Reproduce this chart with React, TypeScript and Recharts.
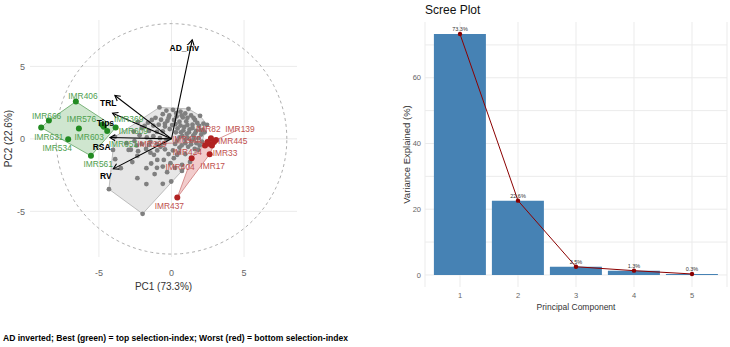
import React from "react";
import {
  ScatterChart,
  Scatter,
  XAxis,
  YAxis,
  CartesianGrid,
  ComposedChart,
  Bar,
  Line,
  LabelList,
} from "recharts";

const FONT = "'Liberation Sans', Arial, sans-serif";
const NARROW = "'Liberation Sans Narrow', 'Liberation Sans', Arial, sans-serif";

// PC scores of the genotypes outside the best / worst groups (grey)
const otherScores: [number, number][] = [
  [-0.83, 2.17], [1.17, 2.07], [1.97, 1.59], [2.45, 0.97], [1.28, -1.59],
  [0.72, -2.21], [-1.99, -5.17], [-4.31, -3.47], [-4.03, -0.76], [-3.9, 0.14],
  [-2.31, 1.17], [-0.35, 1.95], [0.1, 2.0], [0.62, 1.88], [0.95, 1.75],
  [-0.6, 1.7], [-0.15, 1.62], [0.35, 1.55], [0.78, 1.48], [1.35, 1.62],
  [1.62, 1.3], [-1.1, 1.45], [-0.72, 1.32], [-0.28, 1.25], [0.18, 1.3],
  [0.55, 1.18], [1.02, 1.2], [1.45, 0.98], [1.9, 0.9], [2.15, 0.62],
  [-1.62, 1.12], [-1.25, 0.92], [-0.88, 0.98], [-0.45, 0.85], [0.05, 0.95],
  [0.42, 0.72], [0.88, 0.82], [1.25, 0.66], [1.7, 0.55], [2.05, 0.3],
  [-2.05, 0.75], [-1.55, 0.55], [-1.0, 0.48], [-0.6, 0.52], [0.65, 0.45],
  [1.05, 0.35], [1.5, 0.22], [1.85, 0.05], [-2.6, 0.5], [-2.2, 0.25],
  [-1.7, 0.1], [-1.25, 0.18], [-0.8, 0.05], [0.55, 0.1], [0.95, -0.05],
  [1.35, -0.12], [1.72, -0.3], [2.1, -0.2], [-3.1, -0.3], [-2.55, -0.15],
  [-2.05, -0.35], [-1.55, -0.42], [-1.0, -0.35], [-0.5, -0.3], [0.25, -0.35],
  [0.7, -0.45], [1.15, -0.55], [1.6, -0.7], [-2.8, -0.75], [-2.3, -0.85],
  [-1.45, -0.95], [-0.98, -0.8], [-0.45, -0.72], [0.1, -0.8], [0.5, -0.95],
  [0.95, -1.05], [-3.88, -1.4], [-3.49, -2.02], [-2.35, -1.17], [-1.73, -2.02],
  [-1.16, -2.43], [-2.35, -2.71], [-1.73, -3.12], [-0.6, -3.1], [-0.02, -2.94],
  [-1.21, -1.1], [-0.53, -1.45], [-0.07, -1.68], [0.39, -1.1], [-0.6, -1.91],
  [-2.95, -0.76], [0.16, -1.33], [0.73, -1.79], [-0.98, -1.45],
  [0.32, 1.78], [0.7, 1.62], [1.1, 1.45], [1.52, 1.45], [1.78, 1.1],
  [2.2, 1.05], [0.28, 1.02], [0.62, 0.92], [1.1, 0.95], [1.45, 0.75],
  [2.28, 0.45], [0.3, 0.45], [0.82, 0.58], [1.2, 0.45], [1.62, 0.38],
  [2.0, 0.6], [0.4, -0.12], [0.75, 0.2], [1.1, 0.08], [1.55, -0.02],
  [1.95, -0.45], [0.55, -0.6], [0.95, -0.3], [1.35, -0.38], [1.85, -0.75],
  [-0.2, 1.45], [-0.45, 1.05], [-0.12, 0.68], [-1.35, 1.3], [-1.85, 0.9],
  [-0.35, -0.05], [-1.45, -0.2], [-2.4, -0.45], [-0.75, -0.55], [-0.2, -1.05],
  [-1.75, -0.7], [-0.3, -2.3], [-1.4, -1.7], [-2.7, -1.6], [-1.0, -2.0],
  [0.25, -2.0],
];

// top selection-index genotypes (green)
const bestGenotypes = [
  { id: "IMR406", pc1: -6.59, pc2: 2.57 },
  { id: "IMR666", pc1: -8.45, pc2: 1.26 },
  { id: "IMR631", pc1: -8.98, pc2: 0.78 },
  { id: "IMR576", pc1: -6.38, pc2: 0.71 },
  { id: "IMR534", pc1: -7.12, pc2: -0.02 },
  { id: "IMR369", pc1: -4.77, pc2: 0.97 },
  { id: "IMR603", pc1: -4.43, pc2: 0.55 },
  { id: "IMR609", pc1: -3.85, pc2: 0.78 },
  { id: "IMR561", pc1: -5.55, pc2: -1.17 },
  { id: "IMR651", pc1: -4.66, pc2: 0.83 },
];

// where the repelled labels of the best group sit
const bestLabels = [
  { id: "IMR406", pc1: -6.1, pc2: 2.99 },
  { id: "IMR666", pc1: -8.61, pc2: 1.61 },
  { id: "IMR631", pc1: -8.45, pc2: 0.16 },
  { id: "IMR534", pc1: -7.88, pc2: -0.64 },
  { id: "IMR576", pc1: -6.2, pc2: 1.38 },
  { id: "IMR603", pc1: -5.67, pc2: 0.16 },
  { id: "IMR369", pc1: -2.95, pc2: 1.38 },
  { id: "IMR609", pc1: -2.63, pc2: 0.53 },
  { id: "IMR651", pc1: -3.32, pc2: -0.37 },
  { id: "IMR561", pc1: -5.05, pc2: -1.74 },
];

// bottom selection-index genotypes (red)
const worstGenotypes = [
  { id: "IMR437", pc1: 0.4, pc2: -4.05 },
  { id: "IMR424", pc1: 1.39, pc2: -1.33 },
  { id: "IMR33", pc1: 2.63, pc2: -1.06 },
  { id: "IMR82", pc1: 2.72, pc2: 0.05 },
  { id: "IMR139", pc1: 3.07, pc2: -0.07 },
  { id: "IMR445", pc1: 2.93, pc2: -0.21 },
  { id: "IMR17", pc1: 2.59, pc2: -0.34 },
  { id: "IMR404", pc1: 2.31, pc2: -0.45 },
  { id: "IMR470", pc1: 2.79, pc2: -0.45 },
  { id: "IMR229", pc1: 2.48, pc2: -0.21 },
];

const worstLabels = [
  { id: "IMR82", pc1: 2.54, pc2: 0.69 },
  { id: "IMR139", pc1: 4.72, pc2: 0.69 },
  { id: "IMR445", pc1: 4.22, pc2: -0.16 },
  { id: "IMR33", pc1: 3.69, pc2: -0.99 },
  { id: "IMR17", pc1: 2.84, pc2: -1.84 },
  { id: "IMR424", pc1: 1.09, pc2: -0.92 },
  { id: "IMR404", pc1: 0.59, pc2: -1.91 },
  { id: "IMR437", pc1: -0.15, pc2: -4.62 },
  { id: "IMR470", pc1: 1.05, pc2: -0.02 },
  { id: "IMR229", pc1: -1.34, pc2: -0.34 },
];

// labels that got a ggrepel segment
const segmentIds = ["IMR139", "IMR470", "IMR229"];

// trait loadings (scaled arrows)
const loadings = [
  { id: "AD_inv", pc1: 1.43, pc2: 6.83 },
  { id: "TRL", pc1: -3.9, pc2: 2.99 },
  { id: "Tips", pc1: -4.06, pc2: 1.77 },
  { id: "RSA", pc1: -4.24, pc2: 0.09 },
  { id: "RV", pc1: -4.01, pc2: -2.07 },
];

const loadingLabels = [
  { id: "AD_inv", pc1: 0.88, pc2: 6.26 },
  { id: "TRL", pc1: -4.36, pc2: 2.46 },
  { id: "Tips", pc1: -4.55, pc2: 1.12 },
  { id: "RSA", pc1: -4.81, pc2: -0.53 },
  { id: "RV", pc1: -4.52, pc2: -2.55 },
];

const circleRadius = 7.95;

// scree plot
const components = ["1", "2", "3", "4", "5"];
const varianceExplained = [73.3, 22.6, 2.5, 1.3, 0.3];

type Pt = { pc1: number; pc2: number };

// Andrew's monotone chain, same as chull() in R
function convexHull<T extends Pt>(pts: T[]): T[] {
  const p = [...pts].sort((a, b) => a.pc1 - b.pc1 || a.pc2 - b.pc2);
  const cross = (o: Pt, a: Pt, b: Pt) =>
    (a.pc1 - o.pc1) * (b.pc2 - o.pc2) - (a.pc2 - o.pc2) * (b.pc1 - o.pc1);
  const lower: T[] = [];
  for (const q of p) {
    while (lower.length >= 2 && cross(lower[lower.length - 2], lower[lower.length - 1], q) <= 0) lower.pop();
    lower.push(q);
  }
  const upper: T[] = [];
  for (const q of [...p].reverse()) {
    while (upper.length >= 2 && cross(upper[upper.length - 2], upper[upper.length - 1], q) <= 0) upper.pop();
    upper.push(q);
  }
  return lower.slice(0, -1).concat(upper.slice(0, -1));
}

const otherData = otherScores.map(([pc1, pc2]) => ({ pc1, pc2 }));
const circleData = Array.from({ length: 145 }, (_, i) => ({
  pc1: circleRadius * Math.cos((i / 144) * 2 * Math.PI),
  pc2: circleRadius * Math.sin((i / 144) * 2 * Math.PI),
}));
const segments = segmentIds.map((id) => [
  worstGenotypes.find((g) => g.id === id)!,
  worstLabels.find((g) => g.id === id)!,
]);

const noShape = () => <g />;

const dot = (r: number, fill: string) => (props: any) =>
  <circle cx={props.cx} cy={props.cy} r={r} fill={fill} />;

const textShape = (color: string, size: number, weight: string | number = "normal") => (props: any) => (
  <text
    x={props.cx}
    y={props.cy}
    textAnchor="middle"
    dominantBaseline="central"
    fill={color}
    fontSize={size}
    fontWeight={weight}
    fontFamily={FONT}
  >
    {props.payload.id}
  </text>
);

const polygonLine = (fill: string, stroke: string) => (props: any) => {
  const pts = props.points || [];
  const d = pts.map((p: any, i: number) => `${i ? "L" : "M"}${p.x},${p.y}`).join("") + "Z";
  return <path d={d} fill={fill} stroke={stroke} strokeWidth={0.7} />;
};

const dashedLine = (props: any) => {
  const pts = props.points || [];
  const d = pts.map((p: any, i: number) => `${i ? "L" : "M"}${p.x},${p.y}`).join("");
  return <path d={d} fill="none" stroke="#9a9a9a" strokeWidth={0.8} strokeDasharray="3 3" />;
};

const segLine = (color: string) => (props: any) => {
  const [a, b] = props.points;
  return <line x1={a.x} y1={a.y} x2={b.x} y2={b.y} stroke={color} strokeWidth={0.6} />;
};

const arrowLine = (props: any) => {
  const [a, b] = props.points;
  const ang = Math.atan2(b.y - a.y, b.x - a.x);
  const len = 6;
  const spread = Math.PI / 6;
  const h1 = [b.x - len * Math.cos(ang - spread), b.y - len * Math.sin(ang - spread)];
  const h2 = [b.x - len * Math.cos(ang + spread), b.y - len * Math.sin(ang + spread)];
  return (
    <g>
      <line x1={a.x} y1={a.y} x2={b.x} y2={b.y} stroke="#000" strokeWidth={1.1} />
      <path d={`M${h1[0]},${h1[1]}L${b.x},${b.y}L${h2[0]},${h2[1]}`} fill="none" stroke="#000" strokeWidth={1.1} />
    </g>
  );
};

function Biplot() {
  return (
    <ScatterChart width={300} height={300} margin={{ top: 20, right: 3, left: 0, bottom: 0 }}>
      <CartesianGrid stroke="#ebebeb" horizontalValues={[-5, 0, 5]} verticalValues={[-5, 0, 5]} />
      <XAxis
        type="number"
        dataKey="pc1"
        domain={[-9.75, 8.65]}
        ticks={[-5, 0, 5]}
        allowDataOverflow
        axisLine={false}
        tickLine={false}
        tickSize={0}
        tickMargin={13}
        height={43}
        tick={{ fontSize: 9, fill: "#666", fontFamily: FONT }}
        label={{ value: "PC1 (73.3%)", position: "insideBottom", offset: 10, fontSize: 10, fill: "#333", fontFamily: FONT }}
      />
      <YAxis
        type="number"
        dataKey="pc2"
        domain={[-8.15, 8.2]}
        ticks={[-5, 0, 5]}
        allowDataOverflow
        axisLine={false}
        tickLine={false}
        tickSize={0}
        tickMargin={5}
        width={30}
        tick={{ fontSize: 9, fill: "#666", fontFamily: FONT }}
        label={{ value: "PC2 (22.6%)", angle: -90, position: "insideLeft", offset: 8, fontSize: 10, fill: "#333", fontFamily: FONT, style: { textAnchor: "middle" } }}
      />
      <Scatter data={circleData} line={dashedLine} shape={noShape} isAnimationActive={false} />
      <Scatter data={convexHull(otherData)} line={polygonLine("#e6e6e6", "#a6a6a6")} shape={noShape} isAnimationActive={false} />
      <Scatter data={convexHull(bestGenotypes)} line={polygonLine("#cfe6cf", "#4f9a4f")} shape={noShape} isAnimationActive={false} />
      <Scatter data={convexHull(worstGenotypes)} line={polygonLine("#f2cccc", "#c96a6a")} shape={noShape} isAnimationActive={false} />
      <Scatter data={otherData} shape={dot(2.4, "#7f7f7f")} isAnimationActive={false} />
      {segments.map((s, i) => (
        <Scatter key={"seg" + i} data={s} line={segLine("#c0504d")} shape={noShape} isAnimationActive={false} />
      ))}
      {loadings.map((l) => (
        <Scatter key={l.id} data={[{ pc1: 0, pc2: 0 }, l]} line={arrowLine} shape={noShape} isAnimationActive={false} />
      ))}
      <Scatter data={bestGenotypes} shape={dot(3, "#228b22")} isAnimationActive={false} />
      <Scatter data={worstGenotypes} shape={dot(3, "#b22222")} isAnimationActive={false} />
      <Scatter data={bestLabels} shape={textShape("#4e9e4e", 8.4)} isAnimationActive={false} />
      <Scatter data={worstLabels} shape={textShape("#c0504d", 8.4)} isAnimationActive={false} />
      <Scatter data={loadingLabels} shape={textShape("#000", 8.5, "bold")} isAnimationActive={false} />
    </ScatterChart>
  );
}

const screeData = components.map((pc, i) => ({
  pc,
  variance: varianceExplained[i],
  label: `${varianceExplained[i]}%`,
}));

function ScreePlot() {
  return (
    <ComposedChart
      width={370}
      height={320}
      data={screeData}
      margin={{ top: 22, right: 3, left: 0, bottom: 0 }}
      barCategoryGap="5%"
    >
      <CartesianGrid stroke="#ebebeb" horizontalValues={[0, 10, 20, 30, 40, 50, 60, 70]} />
      <XAxis
        dataKey="pc"
        padding={{ left: 6, right: 6 }}
        axisLine={false}
        tickLine={false}
        tickSize={0}
        tickMargin={6}
        height={33}
        tick={{ fontSize: 7.5, fill: "#666", fontFamily: NARROW }}
        label={{ value: "Principal Component", position: "insideBottom", offset: 10, fontSize: 8.5, fill: "#333", fontFamily: NARROW }}
      />
      <YAxis
        type="number"
        domain={[-3.67, 76.97]}
        ticks={[0, 20, 40, 60]}
        allowDataOverflow
        axisLine={false}
        tickLine={false}
        tickSize={0}
        tickMargin={4}
        width={65}
        tick={{ fontSize: 7.5, fill: "#666", fontFamily: NARROW }}
        label={{ value: "Variance Explained (%)", angle: -90, position: "insideLeft", offset: 47, fontSize: 9.5, fill: "#333", fontFamily: FONT, style: { textAnchor: "middle" } }}
      />
      <Bar dataKey="variance" fill="#4682b4" isAnimationActive={false} />
      <Line
        type="linear"
        dataKey="variance"
        stroke="#8b0000"
        strokeWidth={1}
        dot={{ r: 2.2, fill: "#8b0000", stroke: "#8b0000", strokeWidth: 0 }}
        isAnimationActive={false}
      >
        <LabelList dataKey="label" position="top" offset={3} fontSize={5.5} fill="#333" fontFamily={NARROW} />
      </Line>
    </ComposedChart>
  );
}

export default function App() {
  return (
    <div style={{ position: "absolute", left: 0, top: 0, width: 730, height: 347, background: "#fff", fontFamily: FONT }}>
      <div style={{ position: "absolute", left: 0, top: 0 }}>
        <Biplot />
      </div>
      <div style={{ position: "absolute", left: 425, top: 3, fontSize: 12, fontFamily: NARROW, color: "#111" }}>
        Scree Plot
      </div>
      <div style={{ position: "absolute", left: 360, top: 0 }}>
        <ScreePlot />
      </div>
      <svg style={{ position: "absolute", left: 0, top: 330 }} width={400} height={17}>
        <text x={3} y={11} fontSize={9.5} fontWeight="bold" fontFamily={FONT} fill="#000" textLength={345} lengthAdjust="spacingAndGlyphs">
          AD inverted; Best (green) = top selection-index; Worst (red) = bottom selection-index
        </text>
      </svg>
    </div>
  );
}
